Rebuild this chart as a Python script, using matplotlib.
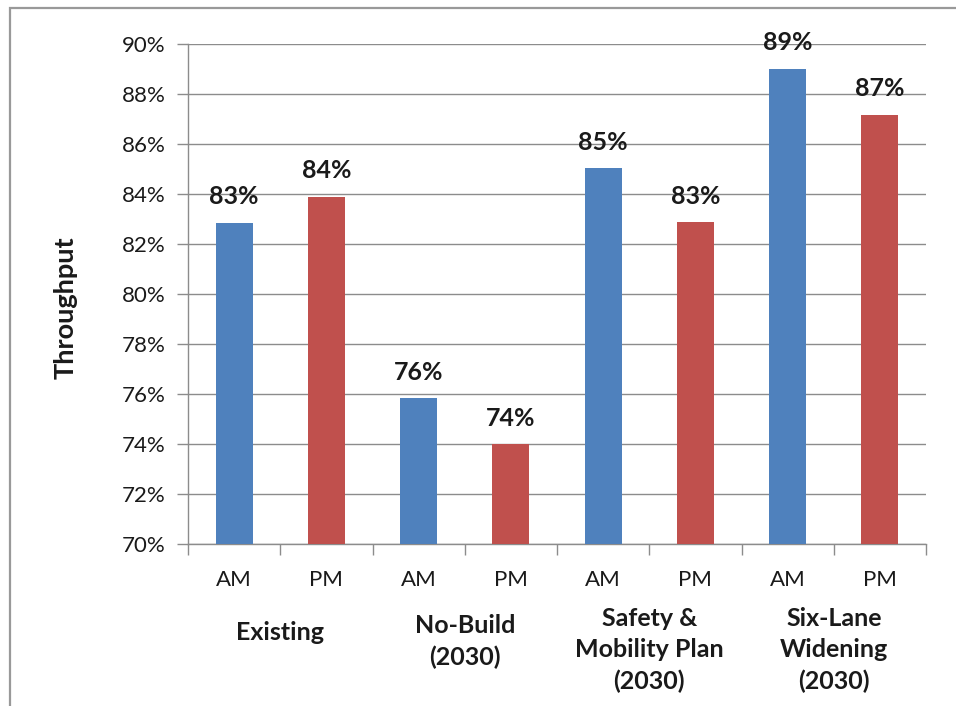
import matplotlib
matplotlib.use('Agg')
import matplotlib.pyplot as plt
from matplotlib.patches import Rectangle
from matplotlib.ticker import FuncFormatter
import matplotlib.transforms as mtransforms

plt.rcParams['font.family'] = ['Lato', 'DejaVu Sans']

# data
groups = ['Existing', 'No-Build\n(2030)', 'Safety &\nMobility Plan\n(2030)', 'Six-Lane\nWidening\n(2030)']
periods = ['AM', 'PM']
am_values = [82.84, 75.84, 85.04, 89.0]
pm_values = [83.88, 74.0, 82.88, 87.16]
y_ticks = [70, 72, 74, 76, 78, 80, 82, 84, 86, 88, 90]

blue = '#4F81BD'
red = '#C0504D'
text_col = '#1a1a1a'
grid_col = '#8c8c8c'

W, H = 956, 706
fig = plt.figure(figsize=(W / 100, H / 100), dpi=100)
ax = fig.add_axes([188 / W, 1 - 544 / H, (926 - 188) / W, (544 - 44) / H])

am_x = [2 * i for i in range(len(groups))]
pm_x = [2 * i + 1 for i in range(len(groups))]
bars_am = ax.bar(am_x, am_values, width=0.4, color=blue, zorder=3)
bars_pm = ax.bar(pm_x, pm_values, width=0.4, color=red, zorder=3)

# value labels above bars
for bars, vals in [(bars_am, am_values), (bars_pm, pm_values)]:
    for b, v in zip(bars, vals):
        ax.annotate('%d%%' % round(v), (b.get_x() + b.get_width() / 2, v),
                    xytext=(0, 26), textcoords='offset pixels',
                    ha='center', va='center', fontsize=18, fontweight='bold',
                    color=text_col)

ax.set_xlim(-0.5, 2 * len(groups) - 0.5)
ax.set_ylim(70, 90)
ax.set_yticks(y_ticks)
ax.yaxis.set_major_formatter(FuncFormatter(lambda v, p: '%d%%' % v))
ax.yaxis.grid(True, color=grid_col, linewidth=1.0, zorder=0)
ax.set_axisbelow(True)

ticks_x = sorted(am_x + pm_x)
ax.set_xticks(ticks_x)
ax.set_xticklabels([periods[i % 2] for i in range(len(ticks_x))])
ax.set_xticks([x - 0.5 for x in ticks_x] + [ticks_x[-1] + 0.5], minor=True)
ax.tick_params(axis='x', which='major', length=0, pad=19, labelsize=16, labelcolor=text_col)
ax.tick_params(axis='x', which='minor', length=8, width=1, color=grid_col)
ax.tick_params(axis='y', length=8, width=1, color=grid_col, pad=8, labelsize=16, labelcolor=text_col)

for s in ['top', 'right']:
    ax.spines[s].set_visible(False)
for s in ['left', 'bottom']:
    ax.spines[s].set_color(grid_col)
    ax.spines[s].set_linewidth(1.0)

# group labels under the AM/PM labels
trans = mtransforms.blended_transform_factory(ax.transData, fig.transFigure)
for i, g in enumerate(groups):
    n = g.count('\n') + 1
    yc = 633 + 8.5 * (n - 1)
    ax.text(2 * i + 0.5, 1 - yc / H, g, transform=trans, ha='center', va='center',
            fontsize=18, fontweight='bold', linespacing=1.43, color=text_col)

fig.text(66 / W, 1 - 308 / H, 'Throughput', rotation=90, ha='center', va='center',
         fontsize=19.5, fontweight='bold', color=text_col)

# outer chart frame (cut off at right and bottom)
fig.add_artist(Rectangle((10 / W, -0.1), 1.2, 1 - 8 / H + 0.1, transform=fig.transFigure,
                         fill=False, edgecolor='#999999', linewidth=1.6))

fig.savefig('out.png', dpi=100)
